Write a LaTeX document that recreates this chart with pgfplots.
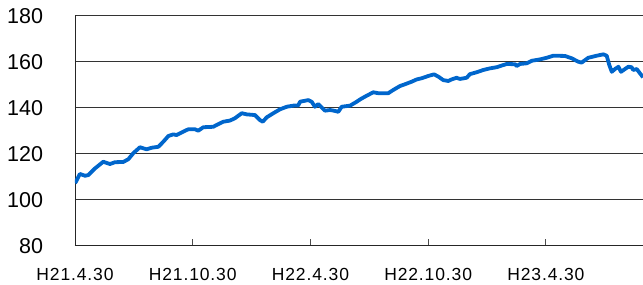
\documentclass[border=0pt]{standalone}
\usepackage{pgfplots}
\pgfplotsset{compat=1.18}
\usepackage{fontspec}
\setmainfont{Liberation Sans}
\definecolor{lineblue}{RGB}{0,102,204}
\begin{document}
\begin{tikzpicture}
\useasboundingbox (0,0) rectangle (643pt,284pt);
\begin{axis}[
  at={(75pt,39pt)}, anchor=south west,
  scale only axis, width=568pt, height=230pt,
  xmin=0, xmax=28.95, ymin=80, ymax=180,
  axis x line*=bottom, axis y line*=left,
  axis line style={black!85, line width=0.9pt},
  xtick={0,6,12,18,24},
  xticklabels={H21.4.30,H21.10.30,H22.4.30,H22.10.30,H23.4.30},
  ytick={80,100,...,180},
  ymajorgrids, grid style={black!80, line width=0.8pt},
  tick align=inside, major tick length=6pt,
  xtick style={black!70, line width=0.9pt},
  ytick style={draw=none},
  /pgf/number format/assume math mode=true,
  xticklabel style={font=\fontsize{17.5}{17.5}\selectfont\addfontfeature{LetterSpace=5}, anchor=north, inner sep=0pt, yshift=-23pt},
  yticklabel style={font=\fontsize{21.5}{21.5}\selectfont, anchor=east, inner sep=0pt, xshift=-31.7pt, yshift=-1.5pt},
]
\addplot[lineblue, line width=3.8pt, line join=round] coordinates {
(0.00,107.0) (0.05,107.5) (0.25,110.9) (0.51,110.1) (0.68,110.4) (1.02,113.3) (1.44,116.2)
(1.78,115.2) (2.04,116.0) (2.46,116.1) (2.72,117.3) (2.97,119.9) (3.31,122.5)
(3.65,121.6) (3.91,122.3) (4.25,122.7) (4.50,124.9) (4.76,127.4) (5.01,128.1)
(5.18,127.8) (5.52,129.3) (5.77,130.3) (6.12,130.3) (6.28,129.7) (6.54,131.2)
(7.05,131.4) (7.22,132.2) (7.56,133.6) (7.90,134.1) (8.15,135.1) (8.50,137.3)
(8.75,136.8) (9.17,136.5) (9.43,134.3) (9.57,133.6) (9.77,135.5) (10.11,137.3)
(10.45,139.0) (10.79,140.1) (11.13,140.6) (11.38,140.7) (11.47,142.3) (11.89,143.0)
(12.06,142.3) (12.23,140.1) (12.40,141.3) (12.74,138.4) (13.00,138.7) (13.25,138.3)
(13.42,137.9) (13.59,140.1) (14.02,140.6) (14.36,142.3) (14.53,143.3) (14.78,144.5)
(15.20,146.4) (15.46,146.0) (15.97,146.0) (16.22,147.4) (16.56,149.1) (16.82,149.9)
(17.16,151.0) (17.42,152.0) (17.67,152.5) (18.01,153.5) (18.30,154.2) (18.52,153.2)
(18.77,151.7) (19.03,151.3) (19.20,152.0) (19.45,152.7) (19.62,152.2) (19.96,152.7)
(20.13,154.3) (20.47,155.1) (20.81,156.1) (21.15,156.8) (21.49,157.3) (22.00,158.7)
(22.43,158.6) (22.51,157.8) (22.68,158.7) (23.02,159.0) (23.28,160.1) (23.70,160.7)
(24.04,161.4) (24.38,162.3) (24.97,162.2) (25.31,161.2) (25.65,159.7) (25.82,159.3)
(26.16,161.4) (26.59,162.3) (26.93,162.9) (27.10,162.3) (27.23,158.3) (27.36,155.3)
(27.52,156.5) (27.70,157.5) (27.83,155.3) (28.03,156.5) (28.20,157.5) (28.37,157.3)
(28.45,156.1) (28.63,156.5) (28.80,154.6) (28.95,152.9)
};
\end{axis}
\end{tikzpicture}
\end{document}
